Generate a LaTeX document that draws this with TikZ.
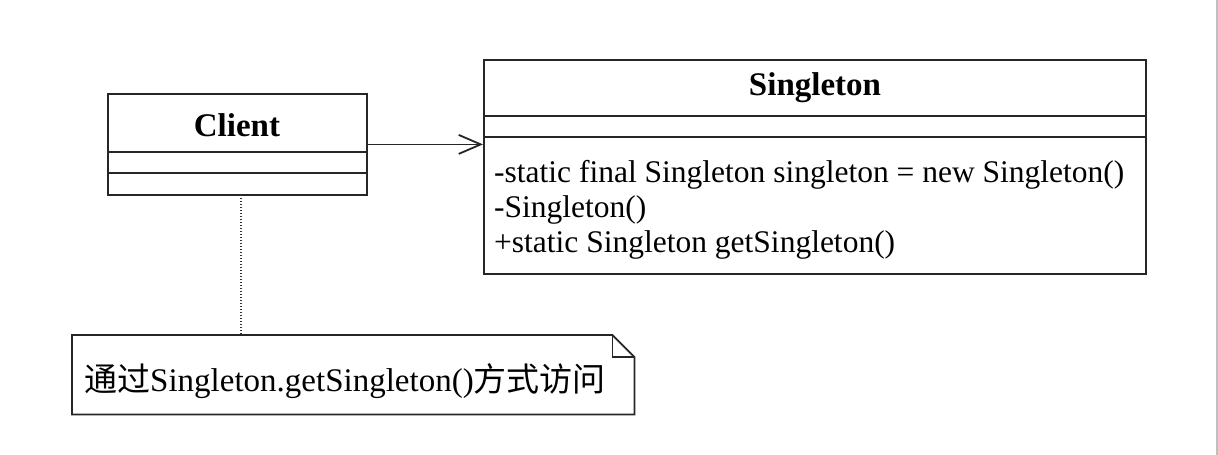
\documentclass[tikz,border=0pt]{standalone}
\usepackage{fontspec}
\setmainfont{Liberation Serif}
\newfontfamily\cjk{Noto Sans CJK SC}
\usetikzlibrary{arrows.meta}
\begin{document}
\begin{tikzpicture}[x=1pt,y=-1pt,
  box/.style={draw=black!85, line width=1.8pt, anchor=north west, inner sep=0pt},
  sep/.style={draw=black!85, line width=1.8pt},
  title/.style={font=\fontsize{33}{40}\selectfont\bfseries, inner sep=0pt},
  member/.style={font=\fontsize{31.5}{35}\selectfont, anchor=base west, inner sep=0pt},
  assoc/.style={draw=black!85, line width=1.8pt, -{Straight Barb[length=22pt,width=19pt,line width=1.8pt]}},
  anchorline/.style={draw=black!80, line width=1.2pt, dash pattern=on 1.2pt off 1.8pt}]
\useasboundingbox (0,0) rectangle (1218,455);
\fill[white] (0,0) rectangle (1218,455);
\draw[black!25, line width=1.2pt] (1217,0) -- (1217,455);

% Client class
\node[box, minimum width=259pt, minimum height=101pt] (client) at (107,93) {};
\node[title] (clientname) at (237,125) {Client};
\draw[sep] ([yshift=-59pt]client.north west) -- ([yshift=-59pt]client.north east);
\draw[sep] ([yshift=-80pt]client.north west) -- ([yshift=-80pt]client.north east);

% Singleton class
\node[box, minimum width=662pt, minimum height=214pt] (single) at (483,59) {};
\node[title] (singlename) at (815,88) {Singleton};
\draw[sep] ([yshift=-57pt]single.north west) -- ([yshift=-57pt]single.north east);
\draw[sep] ([yshift=-78pt]single.north west) -- ([yshift=-78pt]single.north east);
\node[member] (m1) at (494,182) {-static final Singleton singleton = new Singleton()};
\node[member] (m2) at (494,217) {-Singleton()};
\node[member] (m3) at (494,252) {+static Singleton getSingleton()};

% association
\draw[assoc] (client.east) -- (client.east -| single.west);

% note
\node[anchor=north west, minimum width=562pt, minimum height=79pt, inner sep=0pt] (note) at (72,335) {};
\draw[sep] (note.north west) -- ([xshift=-22pt]note.north east) -- ([yshift=-22pt]note.north east)
  -- (note.south east) -- (note.south west) -- cycle;
\draw[sep] ([xshift=-22pt]note.north east) -- ([xshift=-22pt,yshift=-22pt]note.north east) -- ([yshift=-22pt]note.north east);
\node[member, font=\fontsize{33}{35}\selectfont] (notetext) at (84,391) {{\cjk 通过}Singleton.getSingleton(){\cjk 方式访问}};

% note anchor
\coordinate (dtop) at (241,195);
\draw[anchorline] (dtop) -- (dtop |- note.north);
\end{tikzpicture}
\end{document}
